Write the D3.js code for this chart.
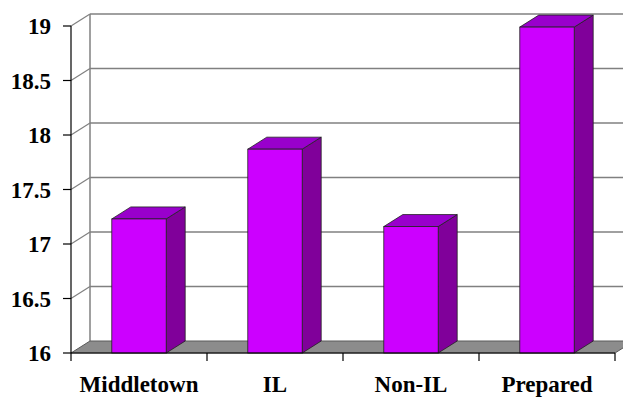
<!DOCTYPE html>
<html>
<head>
<meta charset="utf-8">
<script src="https://cdn.jsdelivr.net/npm/d3@7"></script>
<style>
  body { margin: 0; background: #fff; }
</style>
</head>
<body>
<div id="chart"></div>
<script>
// chart data
var categories = ["Middletown", "IL", "Non-IL", "Prepared"];
var values = [17.23, 17.87, 17.16, 18.99];
var yTicks = [16, 16.5, 17, 17.5, 18, 18.5, 19];

var width = 623, height = 398;
// depth of the 3d box
var dx = 19, dy = -12;
var font = "Liberation Serif";

var svg = d3.select("#chart").append("svg")
    .attr("width", width)
    .attr("height", height);

var x = d3.scaleBand()
    .domain(categories)
    .range([71, 615])
    .padding(0);

var y = d3.scaleLinear()
    .domain([16, 19])
    .range([353, 26]);

var barW = x.bandwidth() * 0.4;

// back wall gridlines
svg.append("g").selectAll("line")
    .data(yTicks.slice(1))
    .enter().append("line")
    .attr("x1", 71 + dx).attr("x2", width)
    .attr("y1", function(d) { return y(d) + dy; })
    .attr("y2", function(d) { return y(d) + dy; })
    .attr("stroke", "#808080")
    .attr("stroke-width", 1.5);

// left wall: back edge + diagonals
svg.append("line")
    .attr("x1", 71 + dx).attr("x2", 71 + dx)
    .attr("y1", y(19) + dy).attr("y2", y(16) + dy)
    .attr("stroke", "#808080").attr("stroke-width", 1.5);

svg.append("g").selectAll("line")
    .data(yTicks.slice(1))
    .enter().append("line")
    .attr("x1", 71).attr("x2", 71 + dx)
    .attr("y1", function(d) { return y(d); })
    .attr("y2", function(d) { return y(d) + dy; })
    .attr("stroke", "#808080")
    .attr("stroke-width", 1.2);

// floor
var x0 = x.range()[0], x1 = x.range()[1], yf = y(16);
svg.append("path")
    .attr("d", "M" + x0 + "," + yf + "L" + x1 + "," + yf + "L" + (x1 + dx) + "," + (yf + dy) +
        "L" + (x0 + dx) + "," + (yf + dy) + "Z")
    .attr("fill", "#8c8c8c")
    .attr("stroke", "#5a5a5a")
    .attr("stroke-width", 1);

// y axis
svg.append("line")
    .attr("x1", 71).attr("x2", 71)
    .attr("y1", y(19)).attr("y2", y(16))
    .attr("stroke", "#000").attr("stroke-width", 1.2);

svg.append("g").selectAll("line")
    .data(yTicks)
    .enter().append("line")
    .attr("x1", 63).attr("x2", 71)
    .attr("y1", function(d) { return y(d); })
    .attr("y2", function(d) { return y(d); })
    .attr("stroke", "#000").attr("stroke-width", 1.2);

svg.append("g").selectAll("text")
    .data(yTicks)
    .enter().append("text")
    .attr("x", 51)
    .attr("y", function(d) { return y(d); })
    .attr("dy", "0.35em")
    .attr("text-anchor", "end")
    .style("font-family", font)
    .style("font-weight", "bold")
    .style("font-size", "23px")
    .text(function(d) { return d; });

// bars
var bars = svg.append("g").selectAll("g")
    .data(values)
    .enter().append("g");

function bx(d, i) { return x(categories[i]) + (x.bandwidth() - barW) / 2; }

// side
bars.append("path")
    .attr("d", function(d, i) {
        var l = bx(d, i) + barW, t = y(d), b = y(16);
        return "M" + l + "," + b + "L" + (l + dx) + "," + (b + dy) + "L" + (l + dx) + "," + (t + dy) +
            "L" + l + "," + t + "Z";
    })
    .attr("fill", "#80009a")
    .attr("stroke", "#222").attr("stroke-width", 0.8);

// top
bars.append("path")
    .attr("d", function(d, i) {
        var l = bx(d, i), t = y(d);
        return "M" + l + "," + t + "L" + (l + barW) + "," + t + "L" + (l + barW + dx) + "," + (t + dy) +
            "L" + (l + dx) + "," + (t + dy) + "Z";
    })
    .attr("fill", "#9900cc")
    .attr("stroke", "#222").attr("stroke-width", 0.8);

// front
bars.append("rect")
    .attr("x", bx)
    .attr("y", function(d) { return y(d); })
    .attr("width", barW)
    .attr("height", function(d) { return y(16) - y(d); })
    .attr("fill", "#cc00ff")
    .attr("stroke", "#222").attr("stroke-width", 0.8);

// x axis
svg.append("line")
    .attr("x1", x0).attr("x2", x1)
    .attr("y1", yf).attr("y2", yf)
    .attr("stroke", "#000").attr("stroke-width", 1.2);

var bounds = categories.map(function(c) { return x(c); }).concat([x1]);
svg.append("g").selectAll("line")
    .data(bounds)
    .enter().append("line")
    .attr("x1", function(d) { return d; }).attr("x2", function(d) { return d; })
    .attr("y1", yf).attr("y2", yf + 8)
    .attr("stroke", "#000").attr("stroke-width", 1.2);

svg.append("g").selectAll("text")
    .data(categories)
    .enter().append("text")
    .attr("x", function(d) { return x(d) + x.bandwidth() / 2; })
    .attr("y", 392)
    .attr("text-anchor", "middle")
    .style("font-family", font)
    .style("font-weight", "bold")
    .style("font-size", "23px")
    .text(function(d) { return d; });
</script>
</body>
</html>
